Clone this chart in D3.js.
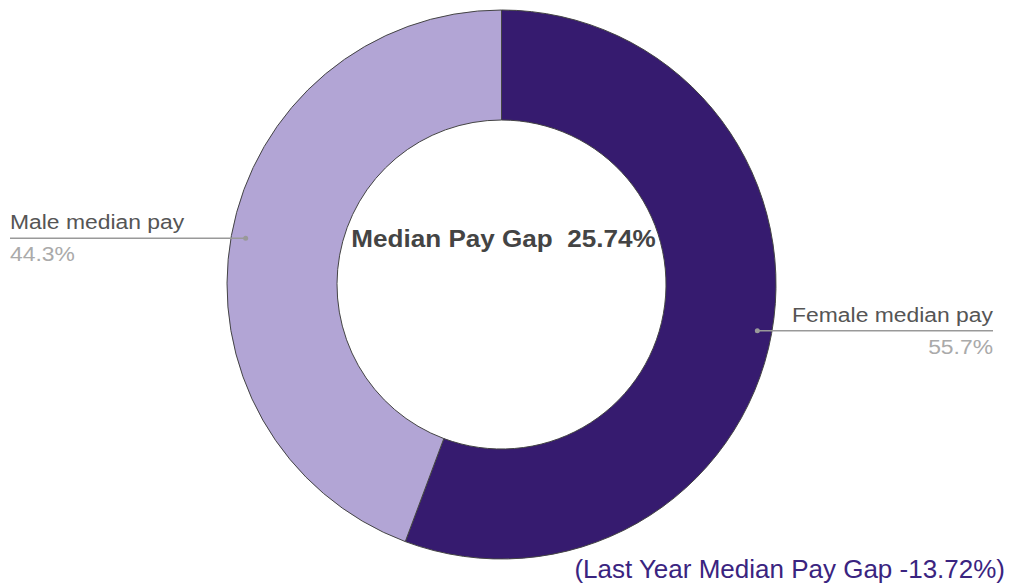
<!DOCTYPE html>
<html>
<head>
<meta charset="utf-8">
<script src="https://cdn.jsdelivr.net/npm/d3@7"></script>
<style>
  body { margin: 0; background: #fff; }
  text { font-family: "Liberation Sans", Arial, sans-serif; }
</style>
</head>
<body>
<script>
var labels = ["Female median pay", "Male median pay"];
var values = [55.7, 44.3];
var colors = ["#361b6f", "#b2a5d5"];
var centerTitle = "Median Pay Gap  25.74%";
var footNote = "(Last Year Median Pay Gap -13.72%)";

var totalWidth = 1010;
var totalHeight = 585;
var cx = 501.5, cy = 284.5;
var outerR = 274.5, innerR = 164.5, dotR = 260;

var svg = d3.select("body").append("svg")
  .attr("width", totalWidth)
  .attr("height", totalHeight);

var g = svg.append("g")
  .attr("transform", "translate(" + cx + "," + cy + ")");

var pie = d3.pie().sort(null).value(function(d) { return d; });
var arcs = pie(values);

var arc = d3.arc().innerRadius(innerR).outerRadius(outerR);

g.selectAll("path.slice")
  .data(arcs)
  .enter().append("path")
  .attr("class", "slice")
  .attr("d", arc)
  .attr("fill", function(d, i) { return colors[i]; })
  .attr("stroke", "#444")
  .attr("stroke-width", 1);

// stretched text helper (reference text is a bit wider than Liberation)
function stretchText(parent, x, y, anchor, size, sx) {
  return parent.append("text")
    .attr("transform", "translate(" + x + "," + y + ") scale(" + sx + ",1)")
    .attr("text-anchor", anchor)
    .attr("font-size", size);
}

// label lines
var labelArc = d3.arc().innerRadius(dotR).outerRadius(dotR);
arcs.forEach(function(d, i) {
  var p = labelArc.centroid(d);
  var right = p[0] > 0;
  var endX = right ? 993 - cx : 10 - cx;
  g.append("line")
    .attr("x1", p[0]).attr("y1", p[1])
    .attr("x2", endX).attr("y2", p[1])
    .attr("stroke", "#999")
    .attr("stroke-width", 1.5);
  g.append("circle")
    .attr("cx", p[0]).attr("cy", p[1])
    .attr("r", 2.5)
    .attr("fill", "#999");
  var anchor = right ? "end" : "start";
  stretchText(g, endX, p[1] - 9, anchor, 21, 1.09)
    .attr("fill", "#555")
    .text(labels[i]);
  stretchText(g, endX, p[1] + 23, anchor, 21, 1.09)
    .attr("fill", "#aaa")
    .text(values[i] + "%");
});

stretchText(svg, 503.5, 247, "middle", 23.5, 1.11)
  .attr("font-weight", "bold")
  .attr("fill", "#444")
  .attr("xml:space", "preserve")
  .style("white-space", "pre")
  .text(centerTitle);

stretchText(svg, 1005, 578, "end", 25, 1.04)
  .attr("fill", "#3a2480")
  .text(footNote);
</script>
</body>
</html>
